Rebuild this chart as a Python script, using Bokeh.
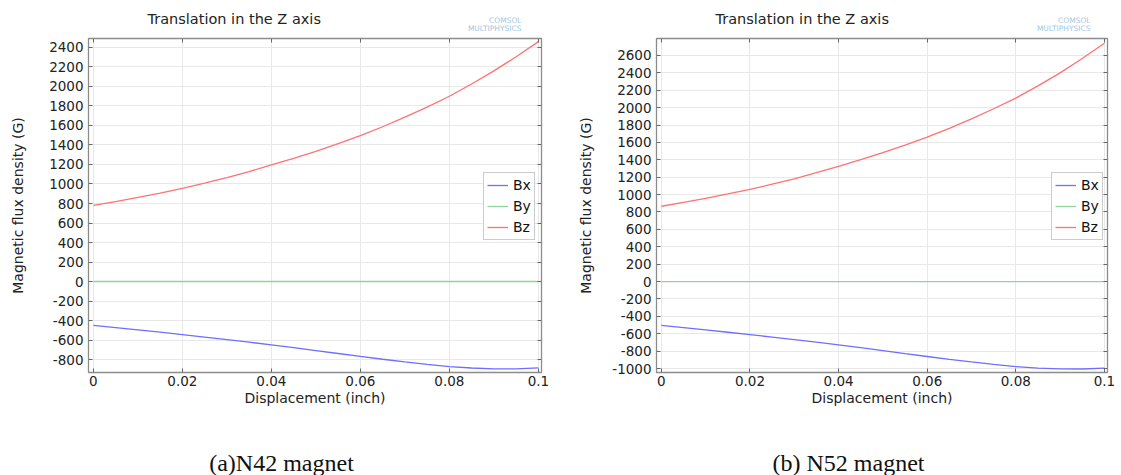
from bokeh.plotting import figure
from bokeh.models import (Range1d, FixedTicker, NumeralTickFormatter, LinearAxis,
                          Legend, LegendItem, Label, CustomLabelingPolicy)
from bokeh.layouts import row, column
from bokeh.embed import file_html
from bokeh.resources import INLINE

# ---------------- data ----------------
displacement = [0.0, 0.005, 0.01, 0.015, 0.02, 0.025, 0.03, 0.035, 0.04, 0.045, 0.05,
                0.055, 0.06, 0.065, 0.07, 0.075, 0.08, 0.085, 0.09, 0.095, 0.1]

n42_bx = [-450, -472, -495, -520, -545, -570, -596, -622, -650, -678, -708,
          -738, -768, -797, -825, -850, -872, -887, -895, -896, -886]
n42_by = [0] * 21
n42_bz = [780, 820, 862, 907, 955, 1008, 1065, 1128, 1195, 1263, 1335,
          1413, 1495, 1587, 1685, 1788, 1900, 2025, 2160, 2305, 2460]

n52_bx = [-505, -530, -556, -583, -611, -639, -668, -697, -728, -761, -795,
          -829, -862, -894, -924, -953, -978, -996, -1005, -1006, -995]
n52_by = [0] * 21
n52_bz = [866, 910, 957, 1007, 1060, 1119, 1182, 1252, 1325, 1402, 1483,
          1569, 1660, 1762, 1870, 1987, 2110, 2250, 2400, 2565, 2740]

x_ticks = [0, 0.02, 0.04, 0.06, 0.08, 0.1]
n42_y_ticks = list(range(-800, 2401, 200))
n52_y_ticks = list(range(-1000, 2601, 200))

series_names = ["Bx", "By", "Bz"]
series_colors = ["#6e6eff", "#8ed49c", "#ff7272"]

chart_title = "Translation in the Z axis"
x_label = "Displacement (inch)"
y_label = "Magnetic flux density (G)"
captions = ["(a)N42 magnet", "(b) N52 magnet"]
logo_lines = ["COMSOL", "MULTIPHYSICS"]

FONT = "DejaVu Sans"
TXT = "#222222"


def make_chart(bx, by, bz, y_ticks, y_range, width, border_left, border_right, ylab_standoff):
    x0, x1 = -0.0011, 0.1007
    p = figure(width=width, height=388, output_backend="svg", toolbar_location=None,
               x_range=Range1d(x0, x1), y_range=Range1d(*y_range),
               min_border_left=border_left, min_border_right=border_right,
               min_border_top=6, min_border_bottom=48)
    p.background_fill_color = "white"
    p.border_fill_color = "white"
    p.outline_line_color = "#8c8c8c"
    p.outline_line_width = 1.3

    xt = FixedTicker(ticks=x_ticks, minor_ticks=[])
    yt = FixedTicker(ticks=y_ticks, minor_ticks=[])

    p.xaxis.ticker = xt
    p.yaxis.ticker = yt
    p.xaxis.formatter = NumeralTickFormatter(format="0.[00]")
    p.yaxis.formatter = NumeralTickFormatter(format="0")
    p.xgrid.ticker = xt
    p.ygrid.ticker = yt
    p.grid.grid_line_color = "#e8e8e8"
    p.grid.grid_line_width = 1

    for ax in (p.xaxis[0], p.yaxis[0]):
        ax.axis_line_color = None
        ax.major_tick_in = 4
        ax.major_tick_out = 0
        ax.major_tick_line_color = "#666666"
        ax.minor_tick_line_color = None
        ax.major_label_text_font = FONT
        ax.major_label_text_font_size = "13.5px"
        ax.major_label_text_color = TXT
        ax.axis_label_text_font = FONT
        ax.axis_label_text_font_size = "14px"
        ax.axis_label_text_font_style = "normal"
        ax.axis_label_text_color = TXT
    p.xaxis.axis_label = x_label
    p.yaxis.axis_label = y_label
    p.xaxis.major_label_standoff = 3
    p.xaxis.axis_label_standoff = 1
    p.yaxis.major_label_standoff = 5
    p.yaxis.axis_label_standoff = ylab_standoff

    for side, tk in (("above", xt), ("right", yt)):
        ax = LinearAxis(ticker=tk)
        ax.axis_line_color = None
        ax.major_tick_in = 4
        ax.major_tick_out = 0
        ax.major_tick_line_color = "#666666"
        ax.minor_tick_line_color = None
        ax.major_label_text_font_size = "1px"
        ax.major_label_standoff = 0
        ax.major_label_policy = CustomLabelingPolicy(code="return new Set()")
        p.add_layout(ax, side)

    renderers = []
    for vals, col in zip((bx, by, bz), series_colors):
        r = p.line(displacement, vals, line_color=col, line_width=1.3)
        renderers.append(r)

    legend = Legend(items=[LegendItem(label=n, renderers=[r]) for n, r in zip(series_names, renderers)],
                    location=(395, 132))
    legend.label_text_font = FONT
    legend.label_text_font_size = "14px"
    legend.label_text_color = "#111111"
    legend.glyph_width = 21
    legend.glyph_height = 18
    legend.label_height = 18
    legend.label_width = 16
    legend.label_standoff = 5
    legend.padding = 3
    legend.spacing = 3
    legend.margin = 0
    legend.border_line_color = "#999999"
    legend.border_line_width = 1
    legend.background_fill_color = "white"
    legend.background_fill_alpha = 1
    p.add_layout(legend, "center")
    return p


def text_strip(height, items):
    f = figure(width=1121, height=height, output_backend="svg", toolbar_location=None,
               x_range=Range1d(0, 1121), y_range=Range1d(0, height),
               x_axis_location=None, y_axis_location=None,
               min_border_left=0, min_border_right=0, min_border_top=0, min_border_bottom=0)
    f.grid.visible = False
    f.outline_line_color = None
    f.background_fill_color = "white"
    for it in items:
        f.add_layout(Label(**it))
    return f


# header: chart titles and COMSOL watermark
header_items = []
for title_left, logo_right in ((147, 521), (715, 1090)):
    header_items.append(dict(x=title_left, y=14, text=chart_title, text_align="left",
                             text_baseline="middle", text_font=FONT, text_font_size="14.5px",
                             text_color=TXT))
    for line, yy in zip(logo_lines, (12.5, 4.5)):
        header_items.append(dict(x=logo_right, y=yy, text=line, text_align="right",
                                 text_baseline="middle", text_font=FONT, text_font_size="7.5px",
                                 text_color="#a3c6e2"))
header = text_strip(32, header_items)

p1 = make_chart(n42_bx, n42_by, n42_bz, n42_y_ticks, (-933, 2492), 560, 88, 19, 20)
p2 = make_chart(n52_bx, n52_by, n52_bz, n52_y_ticks, (-1046, 2795), 561, 96, 14, 15)

caption_items = [dict(x=cx, y=13, text=txt, text_align="center", text_baseline="alphabetic",
                      text_font="Liberation Serif", text_font_size="24px", text_color="#111111")
                 for txt, cx in zip(captions, (281, 848))]
cap = text_strip(55, caption_items)

layout = column(header, row(p1, p2), cap)

open("out.html", "w").write(file_html(layout, INLINE))
